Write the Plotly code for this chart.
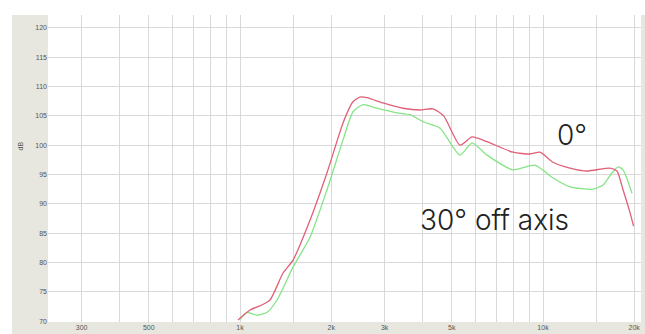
import plotly.graph_objects as go

# 0 degree (on-axis) response: frequency (Hz), level (dB)
freq_0 = [985, 1079, 1164, 1256, 1387, 1496, 1702, 1937, 2188, 2360, 2489, 2625, 2965,
          3451, 3927, 4335, 4700, 5323, 5832, 6534, 7962, 9060, 9770, 10790, 12270,
          13970, 16640, 17540, 18370, 19370, 19900]
db_0 = [70.2, 71.9, 72.6, 73.6, 78.2, 80.4, 87.2, 95.3, 103.8, 107.4, 108.2, 108.1, 107.2,
        106.3, 106.0, 106.2, 105.0, 100.0, 101.4, 100.6, 98.8, 98.5, 98.8, 97.1, 96.1,
        95.6, 96.1, 95.6, 92.4, 88.5, 86.2]

# 30 degree off-axis response
freq_30 = [1000, 1055, 1138, 1228, 1325, 1496, 1702, 1937, 2188, 2360, 2547, 2832, 3298,
           3640, 4018, 4573, 5323, 5832, 6534, 7962, 9410, 10790, 12270, 14620, 15780,
           16900, 17690, 18370, 19670]
db_30 = [70.3, 71.5, 71.0, 71.5, 73.6, 79.2, 84.3, 92.4, 100.9, 105.7, 106.9, 106.3, 105.5,
         105.2, 104.0, 102.9, 98.3, 100.4, 98.3, 95.8, 96.6, 94.4, 92.9, 92.5, 93.2,
         95.3, 96.3, 95.8, 91.8]

label_vals = [300, 500, 1000, 2000, 3000, 5000, 10000, 20000]
label_text = ["300", "500", "1k", "2k", "3k", "5k", "10k", "20k"]
minor_vals = [400, 600, 700, 800, 900, 1500, 4000, 6000, 7000, 8000, 9000, 15000]
y_ticks = [70, 75, 80, 85, 90, 95, 100, 105, 110, 115, 120]

fig = go.Figure()
fig.add_trace(go.Scatter(x=freq_30, y=db_30, mode="lines",
                         line=dict(color="#86e486", width=1.3, shape="spline", smoothing=0.6),
                         showlegend=False))
fig.add_trace(go.Scatter(x=freq_0, y=db_0, mode="lines",
                         line=dict(color="#e06078", width=1.3, shape="spline", smoothing=0.6),
                         showlegend=False))

W, H = 645, 334
ml, mr, mt, mb = 48, 4, 15, 12
pw, ph = W - ml - mr, H - mt - mb

# white areas outside the gray frame (top strip and left strip)
fig.add_shape(type="rect", xref="paper", yref="paper",
              x0=-ml / pw - 0.01, x1=(W - ml) / pw + 0.01, y0=1.0, y1=(ph + mt) / ph + 0.01,
              fillcolor="white", line=dict(width=0), layer="below")
fig.add_shape(type="rect", xref="paper", yref="paper",
              x0=-ml / pw - 0.01, x1=(12 - ml) / pw, y0=-mb / ph - 0.01, y1=(ph + mt) / ph + 0.01,
              fillcolor="white", line=dict(width=0), layer="below")

fig.add_annotation(text="dB", xref="paper", yref="paper",
                   x=(14 - ml) / pw, y=(H - mb - 146) / ph, showarrow=False,
                   textangle=-90, font=dict(size=7, color="#555555", family="Liberation Sans"))
fig.add_annotation(text="0°", xref="x", yref="y",
                   x=4.0957, y=101.7, showarrow=False,
                   font=dict(size=28, color="#222222", family="Inter", weight=300))
fig.add_annotation(text="30° off axis", xref="x", yref="y",
                   x=3.84, y=87.3, showarrow=False,
                   font=dict(size=28, color="#222222", family="Inter", weight=300))

fig.update_layout(
    width=W, height=H,
    margin=dict(l=ml, r=mr, t=mt, b=mb),
    paper_bgcolor="#e7e7df", plot_bgcolor="white",
    xaxis=dict(type="log", range=[2.3663, 4.3234],
               tickmode="array", tickvals=label_vals, ticktext=label_text,
               showgrid=True, gridcolor="#d9d9d9", gridwidth=1,
               minor=dict(tickmode="array", tickvals=minor_vals, showgrid=True,
                          gridcolor="#d9d9d9", gridwidth=1, ticks=""),
               ticks="", showline=False, zeroline=False,
               tickfont=dict(size=7, color="#555555", family="Liberation Sans")),
    yaxis=dict(range=[69.85, 122.2], tickmode="array", tickvals=y_ticks,
               showgrid=True, gridcolor="#d9d9d9", gridwidth=1,
               ticks="", showline=False, zeroline=False,
               tickfont=dict(size=7, color="#555555", family="Liberation Sans")),
)

fig.write_html("out.html")
